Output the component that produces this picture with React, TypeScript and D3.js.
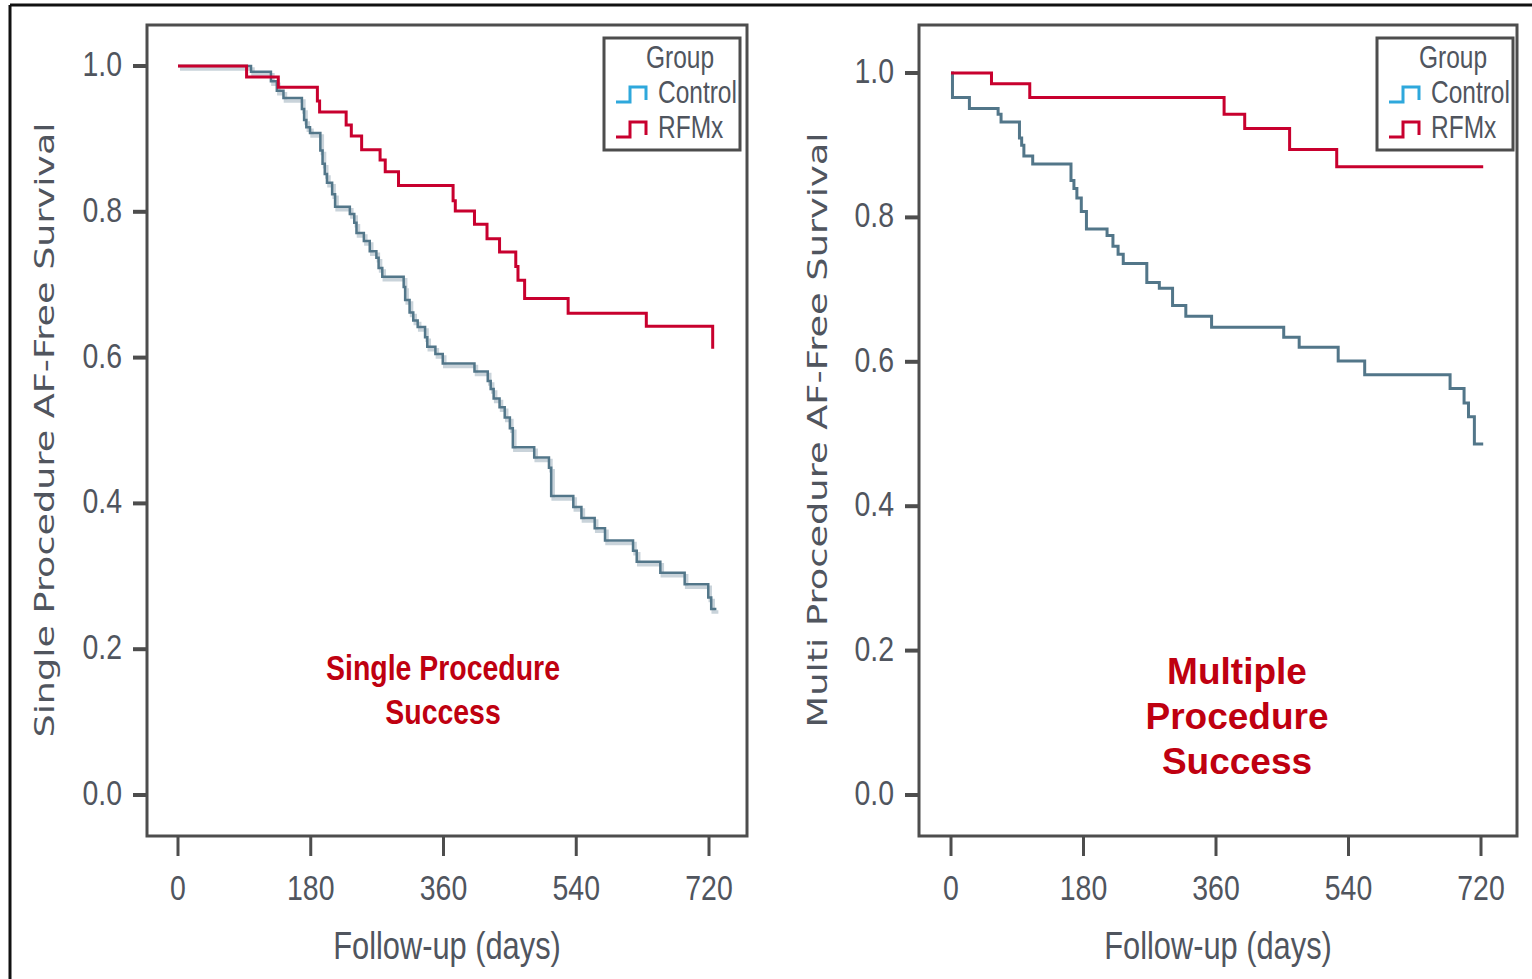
import React from "react";
import * as d3 from "d3";

// ---- Data (Kaplan-Meier step points: day of event, survival after event) ----
const singleControlDays = [0, 99, 126, 134, 143, 168, 171, 174, 179, 193, 196, 199, 202, 209, 213, 233, 239, 242, 252, 260, 269, 272, 277, 306, 308, 314, 319, 325, 335, 338, 349, 359, 402, 420, 424, 428, 436, 443, 450, 454, 483, 503, 506, 536, 547, 565, 579, 617, 622, 654, 687, 719, 723, 730];
const singleControlSurv = [1.0, 0.992, 0.979, 0.966, 0.956, 0.941, 0.926, 0.916, 0.908, 0.884, 0.866, 0.852, 0.84, 0.824, 0.807, 0.797, 0.785, 0.771, 0.76, 0.746, 0.737, 0.723, 0.711, 0.697, 0.679, 0.662, 0.651, 0.642, 0.628, 0.615, 0.605, 0.592, 0.581, 0.568, 0.557, 0.544, 0.532, 0.518, 0.503, 0.477, 0.463, 0.449, 0.41, 0.395, 0.38, 0.366, 0.349, 0.335, 0.32, 0.305, 0.289, 0.271, 0.255, 0.255];

const singleRfmxDays = [0, 93, 136, 189, 192, 228, 235, 249, 274, 281, 299, 373, 376, 402, 419, 436, 458, 461, 470, 529, 635, 725];
const singleRfmxSurv = [1.0, 0.985, 0.971, 0.952, 0.937, 0.919, 0.904, 0.885, 0.871, 0.855, 0.836, 0.815, 0.801, 0.783, 0.763, 0.745, 0.725, 0.706, 0.681, 0.661, 0.643, 0.612];

const multiControlDays = [0, 2, 25, 64, 68, 93, 96, 99, 111, 163, 167, 171, 177, 184, 212, 220, 227, 234, 266, 283, 301, 319, 354, 452, 473, 526, 562, 678, 697, 703, 711, 723];
const multiControlSurv = [1.0, 0.966, 0.951, 0.943, 0.932, 0.91, 0.9, 0.885, 0.874, 0.851, 0.84, 0.827, 0.808, 0.784, 0.775, 0.76, 0.749, 0.736, 0.71, 0.702, 0.678, 0.663, 0.648, 0.634, 0.62, 0.601, 0.582, 0.563, 0.543, 0.524, 0.486, 0.486];

const multiRfmxDays = [0, 55, 107, 371, 399, 460, 524, 723];
const multiRfmxSurv = [1.0, 0.985, 0.966, 0.943, 0.923, 0.894, 0.87, 0.87];

const xTicks = [0, 180, 360, 540, 720];
const yTicks = [0, 0.2, 0.4, 0.6, 0.8, 1.0];
const legendTitle = "Group";
const groups = ["Control", "RFMx"];
const xAxisTitle = "Follow-up (days)";

// ---- Styles ----
const RED = "#c8002e";
const CONTROL = "#527689";
const CONTROL_LEGEND = "#2ea8dc";
const FRAME = "#4d4d4d";
const TEXT = "#50555e";
const NOTE_RED = "#bf0010";
const SANS = "'Liberation Sans', Arial, sans-serif";
const SX = 0.79; // condensed look

type Panel = {
  frame: { x0: number; x1: number; y0: number; y1: number };
  xRange: [number, number];
  yRange: [number, number];
  yTitle: string;
  yTitleX: number;
  yTitleLen: number;
  legendX: number;
  control: { days: number[]; surv: number[] };
  rfmx: { days: number[]; surv: number[] };
  shadow: boolean;
  note: React.ReactNode;
};

function toPoints(days: number[], surv: number[]) {
  return days.map((d, i) => [d, surv[i]] as [number, number]);
}

function NText({
  x,
  y,
  size,
  anchor,
  children,
  fill = TEXT,
  weight,
}: {
  x: number;
  y: number;
  size: number;
  anchor?: "start" | "middle" | "end";
  children: React.ReactNode;
  fill?: string;
  weight?: string;
}) {
  return (
    <g transform={`translate(${x},${y}) scale(${SX},1)`}>
      <text x={0} y={0} textAnchor={anchor || "start"} fontFamily={SANS} fontSize={size} fill={fill} fontWeight={weight}>
        {children}
      </text>
    </g>
  );
}

function PanelView({ p }: { p: Panel }) {
  const x = d3.scaleLinear().domain([0, 720]).range(p.xRange);
  const y = d3.scaleLinear().domain([0, 1]).range(p.yRange);
  const line = d3
    .line<[number, number]>()
    .x((d) => x(d[0]))
    .y((d) => y(d[1]))
    .curve(d3.curveStepAfter);
  const { x0, x1, y0, y1 } = p.frame;
  const ctrl = line(toPoints(p.control.days, p.control.surv)) || "";
  const rf = line(toPoints(p.rfmx.days, p.rfmx.surv)) || "";
  const lx = p.legendX;
  const ly = y0 + 13;
  const yMid = 430;
  return (
    <g>
      {/* curves */}
      {p.shadow && (
        <path d={ctrl} transform="translate(2,3)" fill="none" stroke="#c9d3da" strokeWidth={3.5} />
      )}
      <path d={ctrl} fill="none" stroke={CONTROL} strokeWidth={p.shadow ? 2.5 : 3} />
      <path d={rf} fill="none" stroke={RED} strokeWidth={3} />
      {/* frame */}
      <rect x={x0} y={y0} width={x1 - x0} height={y1 - y0} fill="none" stroke={FRAME} strokeWidth={3} />
      {/* y ticks */}
      {yTicks.map((t) => (
        <g key={"y" + t}>
          <line x1={x0 - 14} x2={x0} y1={y(t)} y2={y(t)} stroke={FRAME} strokeWidth={4} />
          <NText x={x0 - 25} y={y(t) + 10} size={36} anchor="end">
            {t.toFixed(1)}
          </NText>
        </g>
      ))}
      {/* x ticks */}
      {xTicks.map((t) => (
        <g key={"x" + t}>
          <line x1={x(t)} x2={x(t)} y1={y1} y2={y1 + 20} stroke={FRAME} strokeWidth={3} />
          <NText x={x(t)} y={900} size={36} anchor="middle">
            {t}
          </NText>
        </g>
      ))}
      <NText x={(x0 + x1) / 2} y={959} size={39} anchor="middle">
        {xAxisTitle}
      </NText>
      <text
        transform={`translate(${p.yTitleX},${yMid}) rotate(-90)`}
        textAnchor="middle"
        fontFamily="'DejaVu Sans', Verdana, sans-serif"
        fontSize={27}
        fill={TEXT}
        textLength={p.yTitleLen}
        lengthAdjust="spacingAndGlyphs"
      >
        {p.yTitle}
      </text>
      {/* legend */}
      <rect x={lx} y={ly} width={136} height={112} fill="#fff" stroke={FRAME} strokeWidth={3} />
      <NText x={lx + 76} y={ly + 30} size={31} anchor="middle">
        {legendTitle}
      </NText>
      {groups.map((g, i) => {
        const by = ly + 64 + i * 35;
        const col = i === 0 ? CONTROL_LEGEND : RED;
        return (
          <g key={g}>
            <path
              d={`M${lx + 12},${by} H${lx + 26} V${by - 15} H${lx + 42} V${by - 2}`}
              fill="none"
              stroke={col}
              strokeWidth={3}
            />
            <NText x={lx + 54} y={by + 1} size={31}>
              {g}
            </NText>
          </g>
        );
      })}
      {p.note}
    </g>
  );
}

export default function App() {
  const left: Panel = {
    frame: { x0: 147, x1: 747, y0: 25, y1: 836 },
    xRange: [178, 709],
    yRange: [795, 66],
    yTitle: "Single Procedure AF-Free Survival",
    yTitleX: 54,
    yTitleLen: 615,
    legendX: 604,
    control: { days: singleControlDays, surv: singleControlSurv },
    rfmx: { days: singleRfmxDays, surv: singleRfmxSurv },
    shadow: true,
    note: (
      <g>
        <NText x={443} y={680} size={36} anchor="middle" fill={NOTE_RED} weight="bold">
          Single Procedure
        </NText>
        <NText x={443} y={724} size={36} anchor="middle" fill={NOTE_RED} weight="bold">
          Success
        </NText>
      </g>
    ),
  };
  const right: Panel = {
    frame: { x0: 919, x1: 1517, y0: 25, y1: 836 },
    xRange: [951, 1481],
    yRange: [795, 73],
    yTitle: "Multi Procedure AF-Free Survival",
    yTitleX: 827,
    yTitleLen: 595,
    legendX: 1377,
    control: { days: multiControlDays, surv: multiControlSurv },
    rfmx: { days: multiRfmxDays, surv: multiRfmxSurv },
    shadow: false,
    note: (
      <g fill={NOTE_RED} fontFamily={SANS} fontWeight="bold" fontSize={37} textAnchor="middle">
        <text x={1237} y={684}>Multiple</text>
        <text x={1237} y={729}>Procedure</text>
        <text x={1237} y={774}>Success</text>
      </g>
    ),
  };
  return (
    <svg
      width={1532}
      height={979}
      style={{ position: "absolute", left: 0, top: 0, background: "#fff" }}
    >
      <rect x={0} y={0} width={1532} height={979} fill="#fff" />
      <line x1={10} x2={1532} y1={5} y2={5} stroke="#111" strokeWidth={3} />
      <line x1={10} x2={10} y1={5} y2={979} stroke="#111" strokeWidth={3} />
      <PanelView p={left} />
      <PanelView p={right} />
    </svg>
  );
}
